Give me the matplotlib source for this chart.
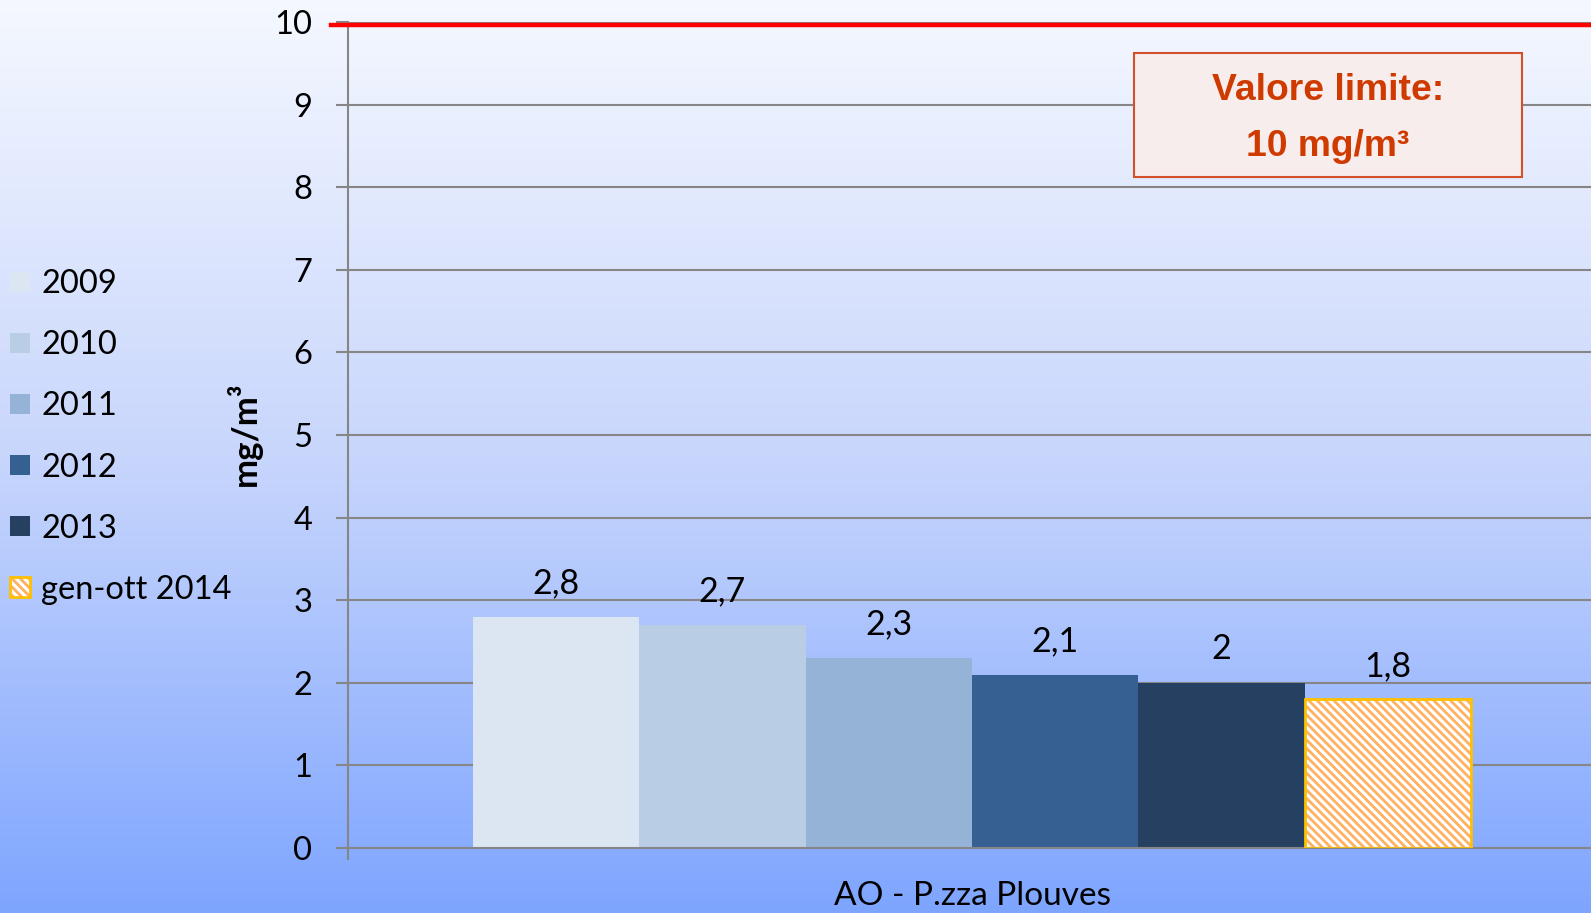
import numpy as np
import matplotlib
matplotlib.use("Agg")
import matplotlib.pyplot as plt
import matplotlib.transforms as mtransforms
from matplotlib.patches import Rectangle

# dati
anni = ["2009", "2010", "2011", "2012", "2013", "gen-ott 2014"]
valori = [2.8, 2.7, 2.3, 2.1, 2.0, 1.8]
colori = ["#dce6f2", "#b9cde5", "#95b3d7", "#376092", "#254061", "#ffffff"]
stazione = "AO - P.zza Plouves"
limite = 10
yticks = list(range(0, 11))

plt.rcParams["font.family"] = ["Lato", "DejaVu Sans"]
plt.rcParams["hatch.linewidth"] = 2.0

fig = plt.figure(figsize=(15.91, 9.13), dpi=100)

# sfondo sfumato
bg = fig.add_axes([0, 0, 1, 1], zorder=-10)
stops = np.array([[245, 248, 255], [200, 214, 252], [126, 165, 255]]) / 255
t = np.linspace(0, 1, 400)
grad = np.stack([np.interp(t, [0, 0.5, 1], stops[:, c]) for c in range(3)], axis=1)
bg.imshow(grad[:, None, :], aspect="auto", extent=[0, 1, 0, 1])
bg.axis("off")

ax = fig.add_axes([348 / 1591, 65 / 913, 1248 / 1591, (848 - 22) / 913])
ax.patch.set_alpha(0)

n = len(valori)
x = np.arange(n) - (n - 1) / 2
handles = []
for i in range(n):
    if i == n - 1:
        b = ax.bar(x[i], valori[i], width=1.0, color="white", edgecolor="#ffb060",
                   hatch="\\\\\\\\", linewidth=0, zorder=2)
        bordo = ax.bar(x[i], valori[i], width=1.0, fill=False, edgecolor="#ffc000",
                       linewidth=2, zorder=3)
        handles.append((b.patches[0], bordo.patches[0]))
    else:
        b = ax.bar(x[i], valori[i], width=1.0, color=colori[i], linewidth=0, zorder=2)
        handles.append(b.patches[0])
    ax.annotate(f"{valori[i]:g}".replace(".", ","), (x[i], valori[i]),
                xytext=(0, 24), textcoords="offset points",
                ha="center", va="center", fontsize=24.5)

ax.set_xlim(-n / 2 - 0.75, n / 2 + 0.75)
ax.set_ylim(0, 10)
ax.set_yticks(yticks)
ax.yaxis.grid(True, color="#868686", lw=1.5)
ax.set_axisbelow(True)

for s in ["top", "right"]:
    ax.spines[s].set_visible(False)
for s in ["left", "bottom"]:
    ax.spines[s].set_color("#868686")
    ax.spines[s].set_linewidth(1.5)

ax.tick_params(axis="y", direction="out", length=8.6, width=1.5, color="#868686",
               labelsize=23.5, pad=17)
ax.set_xticks([0])
ax.set_xticklabels([stazione])
ax.set_xticks([ax.get_xlim()[0]], minor=True)
ax.tick_params(axis="x", which="major", length=0, labelsize=24, pad=24)
ax.tick_params(axis="x", which="minor", direction="out", length=8.6, width=1.5,
               color="#868686")

# linea del valore limite
trans = mtransforms.blended_transform_factory(ax.transAxes, ax.transData)
trans = mtransforms.offset_copy(trans, fig=fig, y=-3, units="dots")
ax.plot([-0.014, 1], [limite, limite], color="#ff0000", lw=3.2,
        transform=trans, clip_on=False, zorder=5)

fig.text(244 / 1591, 1 - 434 / 913, "mg/m³", rotation=90, ha="center", va="center",
         fontsize=25, fontweight="bold")

ax.legend(handles=handles, labels=anni, loc="center left",
          bbox_to_anchor=(10 / 1591, 1 - 437 / 913),
          bbox_transform=fig.transFigure, frameon=False, fontsize=23.5,
          handlelength=0.61, handleheight=0.61, handletextpad=0.34,
          labelspacing=0.95, borderpad=0, borderaxespad=0)

# riquadro valore limite
fig.patches.append(Rectangle((1134 / 1591, 1 - 177 / 913), 388 / 1591, 124 / 913,
                             transform=fig.transFigure, facecolor="#f8eded",
                             edgecolor="#d4502a", lw=1.5, zorder=4))
fig.text(1328 / 1591, 1 - 90 / 913, "Valore limite:", ha="center", va="center",
         fontsize=26.8, fontweight="bold", color="#cf3a00", family="Liberation Sans", zorder=5)
fig.text(1328 / 1591, 1 - 147 / 913, "10 mg/m³", ha="center", va="center",
         fontsize=26.8, fontweight="bold", color="#cf3a00", family="Liberation Sans", zorder=5)

fig.savefig("out.png", dpi=100)
